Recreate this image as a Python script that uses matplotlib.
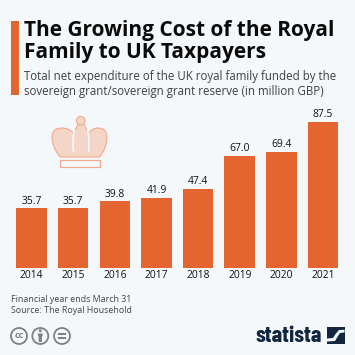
import matplotlib
matplotlib.use("Agg")
import matplotlib.pyplot as plt
from matplotlib.patches import Rectangle, Circle, PathPatch, Polygon
from matplotlib.path import Path

years = ["2014", "2015", "2016", "2017", "2018", "2019", "2020", "2021"]
values = [35.7, 35.7, 39.8, 41.9, 47.4, 67.0, 69.4, 87.5]
value_labels = ["35.7", "35.7", "39.8", "41.9", "47.4", "67.0", "69.4", "87.5"]

title = "The Growing Cost of the Royal\nFamily to UK Taxpayers"
subtitle = "Total net expenditure of the UK royal family funded by the\nsovereign grant/sovereign grant reserve (in million GBP)"
notes = "Financial year ends March 31\nSource: The Royal Household"

BG = "#f5f8fb"
ORANGE = "#e4652f"
NAVY = "#12263f"
PALE = "#f4d6c9"
EDGE = "#f2a98a"
GREY = "#808080"

plt.rcParams["font.family"] = "Open Sans"

fig = plt.figure(figsize=(3.55, 3.55), dpi=100, facecolor=BG)

# overlay in pixel coordinates for the text and the decorations
deco = fig.add_axes([0, 0, 1, 1])
deco.set_xlim(0, 355)
deco.set_ylim(355, 0)
deco.axis("off")

deco.add_patch(Rectangle((10.5, 21), 8.5, 73.5, color=ORANGE, lw=0))
deco.text(24, 41.5, title, fontsize=15, fontweight="bold", color="#0a0a0a",
          va="center", linespacing=1.08)
deco.text(24, 84, subtitle, fontsize=8.3, color="#404040", va="center", linespacing=1.17)
deco.text(11, 305, notes, fontsize=6.4, color="#444444", va="center", linespacing=1.3)


def draw_crown(ax):
    # outer silhouette: two side lobes and the base line
    verts = [(60, 157),
             (52, 147), (52, 137),
             (52, 128), (62, 128),
             (70, 128), (74, 134),
             (77, 123), (81, 123),
             (85, 123), (88, 134),
             (92, 128), (98, 128),
             (107, 128), (107, 137),
             (107, 147), (100, 157),
             (60, 157)]
    codes = [Path.MOVETO] + [Path.CURVE3] * 16 + [Path.CLOSEPOLY]
    ax.add_patch(PathPatch(Path(verts, codes), fc=PALE, ec=EDGE, lw=0.8))
    # light slits either side of the middle arch
    for sx, bx in [(74.5, 72), (87.5, 90)]:
        slit = Path([(sx, 130), (bx, 140), (sx - 1 if sx < 80 else sx + 1, 152)],
                    [Path.MOVETO, Path.CURVE3, Path.CURVE3])
        ax.add_patch(PathPatch(slit, fc="none", ec=BG, lw=1.3))
    ax.add_patch(Circle((80.7, 120.7), 4.3, fc=PALE, ec=EDGE, lw=0.8))
    ax.add_patch(Rectangle((59.5, 160), 40.5, 6.5, fc=BG, ec=EDGE, lw=0.9))


def draw_logo(ax):
    ax.text(322, 335.5, "statista", fontsize=17, fontweight="bold", color=NAVY, ha="right",
            va="center", family=["Barlow Condensed", "Open Sans"])
    ax.add_patch(Rectangle((326.8, 326.7), 18, 17.5, color=NAVY, lw=0))
    ax.add_patch(Polygon([(327, 341.5), (335, 341), (338, 336), (340, 333), (344.5, 332.5),
                          (344.5, 329.8), (339, 330), (335.5, 334), (333, 338), (327, 338.5)],
                         color=BG, lw=0))


def draw_cc(ax):
    for cx in [19, 40.3, 62]:
        ax.add_patch(Circle((cx, 336), 8, fc=BG, ec=GREY, lw=1.3))
    ax.text(19, 335.5, "cc", fontsize=6.5, fontweight="bold", color=GREY, ha="center", va="center")
    ax.add_patch(Circle((40.3, 330.8), 1.5, color=GREY, lw=0))
    ax.add_patch(Polygon([(37.5, 333.5), (43, 333.5), (42, 337), (41.8, 342), (38.8, 342), (38.6, 337)],
                         color=GREY, lw=0))
    ax.add_patch(Rectangle((58, 333), 8, 1.6, color=GREY, lw=0))
    ax.add_patch(Rectangle((58, 337), 8, 1.6, color=GREY, lw=0))


draw_crown(deco)
draw_cc(deco)
draw_logo(deco)

# bar chart, axes box placed so one year step is 41.6 px and 1 unit is 1.665 px
ax = fig.add_axes([11 / 355, (355 - 267.7) / 355, 332 / 355, 157 / 355])
ax.set_facecolor("none")
x = list(range(len(years)))
ax.bar(x, values, width=0.733, color=ORANGE)
ax.set_xlim(-0.5 + 0.006, 7.48)
ax.set_ylim(0, 157 / 1.665)
ax.set_xticks(x)
ax.set_xticklabels(years, fontsize=7.4, color="#111111")
ax.tick_params(axis="x", length=0, pad=2)
ax.set_yticks([])
for s in ax.spines.values():
    s.set_visible(False)
for i, v in enumerate(values):
    ax.text(i, v + 1.0, value_labels[i], ha="center", va="bottom", fontsize=7.4, color="#111111")

fig.savefig("out.png", dpi=100, facecolor=BG)
